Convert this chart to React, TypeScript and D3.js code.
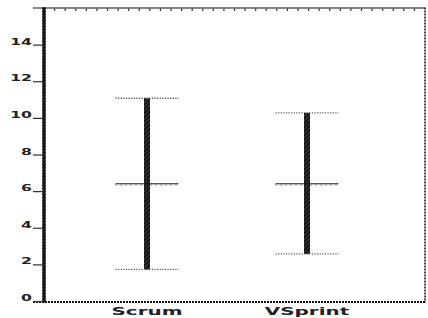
import React from "react";
import * as d3 from "d3";

const categories = ["Scrum", "VSprint"];
const meanValues = [6.4, 6.4];
const upperValues = [11.1, 10.3];
const lowerValues = [1.75, 2.6];
const yTickValues = [0, 2, 4, 6, 8, 10, 12, 14];

const W = 428;
const H = 318;
const left = 44;
const right = 425;
const top = 8.5;
const bottom = 301.5;

export default function App() {
  const y = d3.scaleLinear().domain([0, 16]).range([bottom, top]);
  const x = d3.scalePoint<string>().domain(categories).range([left + 103, left + 263]);
  const topScale = d3.scaleLinear().domain([0, 36]).range([left, right]);
  const topTicks = topScale.ticks(36).slice(1, -1);
  const capHalf = 31.5;
  const font = "'DejaVu Sans', sans-serif";

  return (
    <svg width={W} height={H} style={{ position: "absolute", left: 0, top: 0, background: "#fff" }}>
      <defs>
        <pattern id="hatch" width="3" height="3" patternUnits="userSpaceOnUse" patternTransform="rotate(45)">
          <rect width="3" height="3" fill="#111" />
          <line x1="0" y1="0" x2="0" y2="3" stroke="#888" strokeWidth="0.8" />
        </pattern>
      </defs>
      {/* frame: top */}
      <line x1={33} x2={right} y1={top - 0.5} y2={top - 0.5} stroke="#111" strokeWidth={1.2} />
      {topTicks.map((t, i) => (
        <line key={i} x1={topScale(t)} x2={topScale(t)} y1={top} y2={top + 2.5} stroke="#333" strokeWidth={1.2} />
      ))}
      {/* right */}
      <line x1={right} x2={right} y1={top - 1} y2={bottom + 1} stroke="#222" strokeWidth={1.6} strokeDasharray="2,1" />
      {/* bottom */}
      <line x1={33} x2={right + 1} y1={bottom + 0.5} y2={bottom + 0.5} stroke="#111" strokeWidth={2.2} strokeDasharray="2,1" />
      {/* left */}
      <line x1={left} x2={left} y1={top - 1} y2={bottom + 1} stroke="url(#hatch)" strokeWidth={3.2} />
      <line x1={left} x2={left} y1={top - 1} y2={bottom + 1} stroke="#111" strokeWidth={3.2} strokeDasharray="2,1" />
      {yTickValues.map((v) => (
        <g key={v}>
          <line x1={33} x2={left} y1={y(v)} y2={y(v)} stroke="#333" strokeWidth={1.2} />
          <text
            transform={`translate(32,${y(v) - 0.5}) scale(1.65,1)`}
            textAnchor="end"
            fontFamily={font}
            fontWeight="bold"
            fontSize={9.5}
            fill="#222"
          >
            {v}
          </text>
        </g>
      ))}
      {categories.map((c, i) => {
        const cx = x(c) as number;
        return (
          <g key={c}>
            <rect
              x={cx - 3}
              y={y(upperValues[i])}
              width={6}
              height={y(lowerValues[i]) - y(upperValues[i])}
              fill="url(#hatch)"
            />
            <line x1={cx - capHalf} x2={cx + capHalf} y1={y(upperValues[i])} y2={y(upperValues[i])} stroke="#555" strokeWidth={1.3} strokeDasharray="1.2,1.4" />
            <line x1={cx - capHalf} x2={cx + capHalf} y1={y(lowerValues[i])} y2={y(lowerValues[i])} stroke="#555" strokeWidth={1.3} strokeDasharray="1.2,1.4" />
            <line x1={cx - capHalf} x2={cx + capHalf} y1={y(meanValues[i]) - 0.5} y2={y(meanValues[i]) - 0.5} stroke="#111" strokeWidth={1} />
            <line x1={cx - capHalf} x2={cx + capHalf} y1={y(meanValues[i]) + 0.8} y2={y(meanValues[i]) + 0.8} stroke="#444" strokeWidth={1} strokeDasharray="1,4" />
            <text
              transform={`translate(${cx},315) scale(1.9,1)`}
              textAnchor="middle"
              fontFamily={font}
              fontWeight="bold"
              fontSize={10.5}
              fill="#222"
            >
              {c}
            </text>
          </g>
        );
      })}
    </svg>
  );
}
